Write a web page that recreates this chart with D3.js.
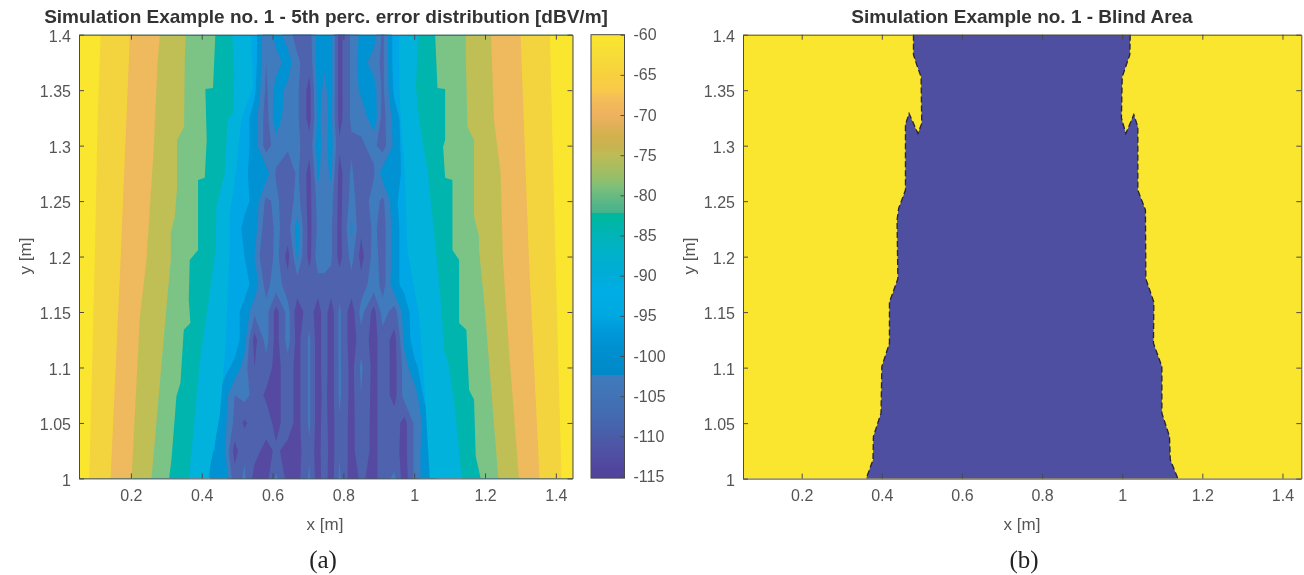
<!DOCTYPE html>
<html>
<head>
<meta charset="utf-8">
<script src="https://cdn.jsdelivr.net/npm/d3@7"></script>
<style>
  html, body { margin: 0; padding: 0; background: #fff; }
  svg { display: block; filter: blur(0.45px); }
  text { font-family: "Liberation Sans", sans-serif; }
</style>
</head>
<body>
<svg id="vis" width="1304" height="575"></svg>
<script>
const xTicks = [0.2, 0.4, 0.6, 0.8, 1, 1.2, 1.4];
const yTicks = [1, 1.05, 1.1, 1.15, 1.2, 1.25, 1.3, 1.35, 1.4];
const barTicks = [-60, -65, -70, -75, -80, -85, -90, -95, -100, -105, -110, -115];

const titleA = "Simulation Example no. 1 - 5th perc. error distribution [dBV/m]";
const titleB = "Simulation Example no. 1 - Blind Area";

// edges of the outer contour bands, [x, y], painted from the middle outwards
const leftEdges = [
  [[.5399,1.4],[.5446,1.353],[.5117,1.323],[.4977,1.278],[.4789,1.236],[.4789,1.206],[.4667,1.116],[.4507,1.056],[.4178,1]],
  [[.4864,1.4],[.4915,1.365],[.4905,1.33],[.4735,1.324],[.4648,1.275],[.4413,1.245],[.4394,1.206],[.4131,1.146],[.3944,1.104],[.3803,1.056],[.3643,1]],
  [[.4385,1.4],[.4319,1.352],[.4103,1.351],[.4141,1.305],[.4085,1.271],[.3897,1.269],[.3897,1.206],[.3662,1.197],[.3634,1.161],[.3681,1.14],[.3493,1.134],[.3399,1.086],[.3286,1.074],[.3146,1.017],[.308,1]],
  [[.3549,1.4],[.3521,1.377],[.3502,1.317],[.3305,1.305],[.3305,1.263],[.3239,1.236],[.3127,1.221],[.3127,1.197],[.3023,1.161],[.2817,1.086],[.2582,1]],
  [[.2817,1.4],[.2751,1.374],[.2648,1.299],[.2441,1.197],[.2254,1.146],[.2019,1]],
  [[.1972,1.4],[.1709,1.197],[.1427,1]],
  [[.1146,1.4],[.106,1.323],[.0986,1.206],[.0826,1]]
];
const rightEdges = [
  [[.9578,1.4],[.9578,1.353],[.9624,1.323],[.9725,1.278],[.981,1.206],[1.0141,1.146],[1.0282,1.086],[1.0441,1]],
  [[1.0122,1.4],[1.0047,1.353],[1.0141,1.323],[1.0376,1.278],[1.061,1.206],[1.0751,1.161],[1.0845,1.116],[1.0986,1.101],[1.1174,1.056],[1.1343,1]],
  [[1.0592,1.4],[1.0657,1.352],[1.0873,1.351],[1.0873,1.305],[1.0817,1.299],[1.0873,1.271],[1.108,1.269],[1.108,1.206],[1.1268,1.197],[1.1268,1.14],[1.1474,1.134],[1.1549,1.08],[1.169,1.071],[1.1737,1.02],[1.1878,1]],
  [[1.1456,1.4],[1.1456,1.383],[1.1502,1.317],[1.169,1.305],[1.169,1.236],[1.1831,1.218],[1.1831,1.206],[1.1925,1.176],[1.1972,1.161],[1.216,1.086],[1.2376,1]],
  [[1.2169,1.4],[1.2254,1.323],[1.2441,1.275],[1.2507,1.197],[1.2676,1.116],[1.2958,1]],
  [[1.3005,1.4],[1.3239,1.197],[1.354,1]],
  [[1.3831,1.4],[1.3991,1.197],[1.416,1]]
];
const edgeColors = ["#00b2dc", "#00b5ad", "#7cc486", "#c0bf56", "#efb95e", "#f3d43e", "#fae62e"];

// middle of the map, error in dBV/m on a coarse grid
const centerX = [.4366,.465,.493,.521,.549,.582,.61,.643,.67,.704,.728,.746,.765,.789,.823,.85,.886,.911,.944,.972,1.001,1.029,1.056];
const centerY = [1.4,1.375,1.35,1.325,1.3,1.275,1.25,1.225,1.2,1.175,1.15,1.125,1.1,1.075,1.05,1.025,1];
const centerZ = [
  [-95,-95,-95,-95,-95,-104,-99,-103,-107,-107,-99,-98,-99,-112,-104,-100,-99,-106,-95,-95,-95,-95,-95],
  [-95,-95,-95,-95,-95,-105,-103,-99,-104,-108,-99,-100.5,-99,-112,-104,-99,-103,-106,-95,-95,-95,-95,-95],
  [-95,-95,-95,-95,-96,-106,-99,-102,-104,-112,-99,-102,-99,-112,-104,-100,-99,-106,-96,-95,-95,-95,-95],
  [-95,-95,-95,-95,-99,-107,-98,-104,-104,-112,-99.5,-103,-99.5,-112,-104,-104,-98,-107,-99,-95,-95,-95,-95],
  [-95,-95,-95,-95,-99,-107,-103,-104,-104,-108,-99,-103,-99,-109,-106,-105.5,-104,-107,-100,-95,-95,-95,-95],
  [-95,-95,-95,-95,-101,-99,-105.5,-109,-104,-112,-100,-103,-100,-112,-104,-110,-105.5,-99,-101,-95,-95,-95,-95],
  [-95,-95,-95,-96,-98,-106,-104,-108,-103,-112,-103,-103,-103,-112,-103,-108,-103,-106,-98,-95,-95,-95,-95],
  [-95,-95,-95,-98,-99,-108,-104,-107,-99,-112,-104,-103,-104,-112,-100,-109,-104,-107,-99,-95,-95,-95,-95],
  [-95,-95,-95,-97,-101,-110,-103,-112,-100,-112,-102,-102,-104,-112,-103,-112,-103,-107,-99,-95,-95,-95,-95],
  [-95,-95,-95,-96,-98,-107,-102,-108,-107,-107,-107,-107,-107,-107,-107,-108,-102,-107,-98,-96,-95,-95,-95],
  [-95,-95,-96,-98,-104,-103,-112,-103,-113,-107,-113,-107,-113,-104,-113,-103,-112,-103,-107,-99,-95,-95,-95],
  [-95,-95,-95,-99,-112,-103,-112,-103,-112,-104,-113,-107,-113,-104,-113,-107,-112,-107,-112,-100,-95,-95,-95],
  [-95,-96,-98,-103,-110,-107,-112,-107,-112,-104,-113,-107,-113,-104,-112,-104,-112,-107,-112,-103,-98,-95,-95],
  [-96,-99,-105,-103,-107,-111,-112,-107,-112,-104,-113,-108,-113,-104,-112,-105,-112,-107,-112,-103,-103,-96,-95],
  [-96,-100,-106,-111,-107,-107,-112,-107,-112,-104,-113,-107,-113,-105.5,-112,-106,-112,-107,-107,-112,-104,-100,-96],
  [-97,-100,-112,-106,-108,-112,-109,-112,-112,-106,-113,-106,-113,-105.5,-112,-106,-112,-107,-108,-112,-104,-99,-96],
  [-97,-98,-108,-104,-112,-112,-104,-112,-112,-104,-113,-107,-113,-104,-113,-109,-112,-107,-104,-113,-104,-99,-97]
];
const centerLevels = [-97, -101, -105, -110];
const centerColors = ["#0092d2", "#407bbe", "#4f62ad", "#5549a2"];
const baseColor = "#00a7e7";

// colorbar colours by value, read top to bottom; the two hard steps are listed twice
const barSteps = [-60,-62,-63.5,-65,-67,-68,-70,-71.5,-72.5,-74,-75,-76.5,-78,-79,-80,-81.5,-82.2,-82.2,-85,-87,-90,-92,-95,-97,-99,-102.4,-102.4,-105,-108,-110,-112,-114,-115.2];
const barColors = ["#fae62e","#f7df35","#f6d83a","#f8d03e","#f9c94b","#f4bc59","#efb25e","#deb055","#d3b14e","#c6b451","#bdbc56","#a8bd5f","#92bf6c","#7cbf7c","#68ba80","#4eb58a","#45b38c","#00b89a","#00b4b8","#00b2c8","#00acd8","#00aee6","#00a8e0","#0098d8","#0090d0","#0088c8","#3f7cbc","#4273b6","#4468b0","#4a5ca8","#5051a4","#51459e","#4f449c"];

// blind area outline
const blindLeft = [[.479,1.4],[.479,1.382],[.487,1.373],[.498,1.362],[.4996,1.32],[.49,1.311],[.468,1.329],[.459,1.319],[.459,1.26],[.442,1.2435],[.438,1.233],[.44,1.18],[.419,1.159],[.419,1.122],[.4,1.101],[.398,1.059],[.379,1.038],[.378,1.017],[.361,1]];
const blindRight = [[1.02,1.4],[1.019,1.382],[1,1.362],[.998,1.325],[1.009,1.311],[1.029,1.328],[1.039,1.317],[1.039,1.26],[1.058,1.242],[1.059,1.18],[1.079,1.159],[1.078,1.122],[1.099,1.101],[1.099,1.059],[1.118,1.038],[1.12,1.017],[1.139,1]];

const axisColor = "#4a4a4a";
const textColor = "#555";
const xDomain = [0.0535, 1.447];
const yDomain = [1, 1.4];
const svg = d3.select("#vis");

drawAxes = (g, x, y, xLabelX, yLabelX, title, titleX) => {
  const top = y.range()[1], bottom = y.range()[0];
  const left = x.range()[0], right = x.range()[1];

  const styleAxis = (a, labels) => {
    a.selectAll("path,line").attr("stroke", axisColor).attr("stroke-width", 1);
    a.selectAll("text").attr("fill", textColor).style("font-size", "16px").style("font-family", "Liberation Sans");
    if (!labels) a.selectAll("text").remove();
  };

  g.append("g").attr("transform", `translate(0,${bottom})`)
    .call(d3.axisBottom(x).tickValues(xTicks).tickFormat(String).tickSizeInner(-5).tickSizeOuter(0).tickPadding(11))
    .call(a => styleAxis(a, true));
  g.append("g").attr("transform", `translate(0,${top})`)
    .call(d3.axisTop(x).tickValues(xTicks).tickSizeInner(-5).tickSizeOuter(0))
    .call(a => styleAxis(a, false));
  g.append("g").attr("transform", `translate(${left},0)`)
    .call(d3.axisLeft(y).tickValues(yTicks).tickFormat(String).tickSizeInner(-5).tickSizeOuter(0).tickPadding(8))
    .call(a => styleAxis(a, true))
    .call(a => a.selectAll("text").attr("dy", "0.42em"));
  g.append("g").attr("transform", `translate(${right},0)`)
    .call(d3.axisRight(y).tickValues(yTicks).tickSizeInner(-5).tickSizeOuter(0))
    .call(a => styleAxis(a, false));

  g.append("text").attr("x", xLabelX).attr("y", 530).attr("text-anchor", "middle")
    .attr("fill", textColor).style("font-size", "17px").text("x [m]");
  g.append("text").attr("transform", `translate(${yLabelX},256) rotate(-90)`).attr("text-anchor", "middle")
    .attr("fill", textColor).style("font-size", "17px").text("y [m]");
  g.append("text").attr("x", titleX).attr("y", 23).attr("text-anchor", "middle")
    .attr("fill", "#333").style("font-size", "19px").style("font-weight", "bold").text(title);
};

drawPanelA = () => {
  const x = d3.scaleLinear().domain(xDomain).range([79, 572.5]);
  const y = d3.scaleLinear().domain(yDomain).range([478.4, 34.7]);

  svg.append("clipPath").attr("id", "clipA").append("rect")
    .attr("x", 79).attr("y", 34.7).attr("width", 493.5).attr("height", 443.7);

  const map = svg.append("g").attr("clip-path", "url(#clipA)");
  map.append("rect").attr("x", 79).attr("y", 34.7).attr("width", 493.5).attr("height", 443.7).attr("fill", baseColor);

  // d3.contours keeps higher values inside, the error is negated so the deep bands nest
  const nx = centerX.length, ny = centerY.length;
  const xIndex = d3.scaleLinear().domain(d3.range(nx)).range(centerX);
  const yIndex = d3.scaleLinear().domain(d3.range(ny)).range(centerY);
  const toScreen = d3.geoTransform({
    point: function(px, py) { this.stream.point(x(xIndex(px - 0.5)), y(yIndex(py - 0.5))); }
  });
  const contours = d3.contours().size([nx, ny]).smooth(true).thresholds(centerLevels.map(d => -d));
  map.selectAll(".center")
    .data(contours(centerZ.flat().map(d => -d)))
    .join("path")
      .attr("class", "center")
      .attr("d", d3.geoPath(toScreen))
      .attr("fill", (d, i) => centerColors[i]);

  const leftArea = d3.area().x0(x.range()[0] - 2).x1(d => x(d[0])).y(d => y(d[1]));
  const rightArea = d3.area().x0(x.range()[1] + 2).x1(d => x(d[0])).y(d => y(d[1]));
  leftEdges.forEach((edge, i) => {
    map.append("path").attr("d", leftArea(edge)).attr("fill", edgeColors[i]);
  });
  rightEdges.forEach((edge, i) => {
    map.append("path").attr("d", rightArea(edge)).attr("fill", edgeColors[i]);
  });

  drawAxes(svg.append("g"), x, y, 325, 31, titleA, 326);

  // colorbar
  const barY = d3.scaleLinear().domain([-60, -115]).range([34.7, 476.5]);
  const barEnd = barSteps[barSteps.length - 1];
  const grad = svg.append("linearGradient").attr("id", "barGrad").attr("x1", 0).attr("x2", 0).attr("y1", 0).attr("y2", 1);
  grad.selectAll("stop")
    .data(barSteps)
    .join("stop")
      .attr("offset", d => (d + 60) / (barEnd + 60))
      .attr("stop-color", (d, i) => barColors[i]);

  const bar = svg.append("g");
  bar.append("rect").attr("x", 591).attr("y", 34.7).attr("width", 33.5).attr("height", barY(barEnd) - 34.7)
    .attr("fill", "url(#barGrad)").attr("stroke", axisColor);
  bar.append("g").attr("transform", "translate(624.5,0)")
    .call(d3.axisRight(barY).tickValues(barTicks).tickFormat(String).tickSizeInner(-4).tickSizeOuter(0).tickPadding(9))
    .call(a => {
      a.select("path").remove();
      a.selectAll("line").attr("stroke", axisColor);
      a.selectAll("text").attr("fill", textColor).style("font-size", "16px").style("font-family", "Liberation Sans");
    });

  svg.append("text").attr("x", 323).attr("y", 568).attr("text-anchor", "middle")
    .style("font-family", "Liberation Serif").style("font-size", "25px").attr("fill", "#222").text("(a)");
};

drawPanelB = () => {
  const x = d3.scaleLinear().domain(xDomain).range([743, 1301.3]);
  const y = d3.scaleLinear().domain(yDomain).range([478.6, 34.7]);

  svg.append("rect").attr("x", 743).attr("y", 34.7).attr("width", 558.3).attr("height", 443.9).attr("fill", "#fbe62f");

  const line = d3.line().x(d => x(d[0])).y(d => y(d[1]));
  svg.append("path").attr("d", line(blindLeft.concat(blindRight.slice().reverse())) + "Z").attr("fill", "#4e4fa0");
  [blindLeft, blindRight].forEach(side => {
    svg.append("path").attr("d", line(side)).attr("fill", "none")
      .attr("stroke", "#24242e").attr("stroke-width", 1.3).attr("stroke-dasharray", "6 3");
  });

  drawAxes(svg.append("g"), x, y, 1022, 695, titleB, 1022);

  svg.append("text").attr("x", 1024).attr("y", 568).attr("text-anchor", "middle")
    .style("font-family", "Liberation Serif").style("font-size", "25px").attr("fill", "#222").text("(b)");
};

drawPanelA();
drawPanelB();
</script>
</body>
</html>
